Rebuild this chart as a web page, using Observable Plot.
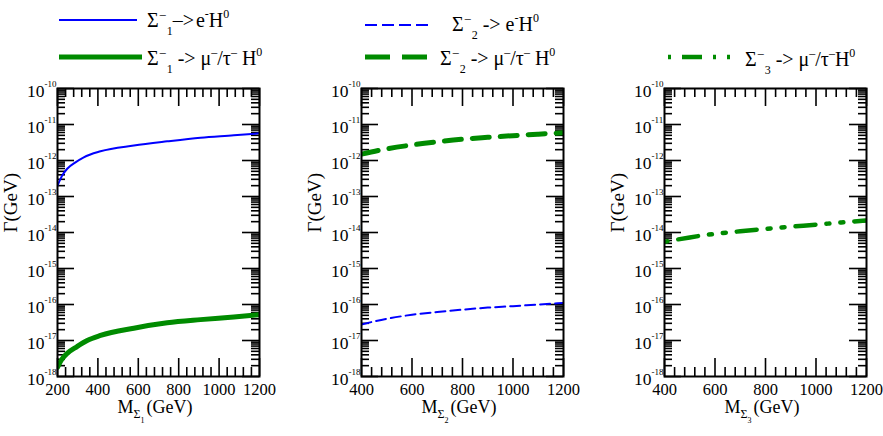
<!DOCTYPE html>
<html><head><meta charset="utf-8">
<script src="https://cdn.jsdelivr.net/npm/d3@7"></script>
<script src="https://cdn.jsdelivr.net/npm/@observablehq/plot@0.6"></script>
<style>
body{margin:0;background:#fff;}
#wrap{position:relative;width:883px;height:436px;overflow:hidden;background:#fff;}
#wrap > svg{position:absolute;overflow:visible;}
#wrap text{font-family:"Liberation Serif","Times New Roman",serif;}
</style></head><body><div id="wrap"></div>
<script>
// ---------- data ----------
const exps = [-18, -17, -16, -15, -14, -13, -12, -11, -10];
const expLabels = ["-18", "-17", "-16", "-15", "-14", "-13", "-12", "-11", "-10"];
const xTicks1 = [200, 400, 600, 800, 1000, 1200];
const xTicks23 = [400, 600, 800, 1000, 1200];

// Panel 1: Sigma1
const m1e = [200, 223, 248, 289, 330, 413, 578, 743, 908, 1073, 1200];
const g1e = [2.0e-13, 3.8e-13, 5.9e-13, 8.9e-13, 1.23e-12, 1.8e-12, 2.6e-12, 3.4e-12, 4.3e-12, 5.0e-12, 5.7e-12];
const m1mu = [200, 223, 248, 297, 347, 413, 578, 743, 908, 1073, 1200];
const g1mu = [1.8e-18, 3.1e-18, 4.4e-18, 6.8e-18, 1.0e-17, 1.38e-17, 2.2e-17, 3.1e-17, 3.8e-17, 4.5e-17, 5.2e-17];
// Panel 2: Sigma2
const m2 = [400, 500, 600, 700, 800, 900, 1000, 1100, 1200];
const g2mu = [1.5e-12, 2.1e-12, 2.7e-12, 3.3e-12, 3.9e-12, 4.4e-12, 4.9e-12, 5.4e-12, 5.9e-12];
const g2e = [2.8e-17, 4.0e-17, 5.2e-17, 6.2e-17, 7.2e-17, 8.2e-17, 9.0e-17, 1.0e-16, 1.1e-16];
// Panel 3: Sigma3
const m3 = [400, 500, 600, 700, 800, 900, 1000, 1100, 1200];
const g3mu = [5.5e-15, 7.3e-15, 9.2e-15, 1.08e-14, 1.26e-14, 1.45e-14, 1.65e-14, 1.9e-14, 2.15e-14];

// ---------- styles ----------
const FONT = '"Liberation Serif", "Times New Roman", serif';
const BLUE = "#0000ff", GREEN = "#008b00";
const DOTDASH = "20,11,3,11,3,11";

const yMajor = exps.map(e => Math.pow(10, e));
const yMinor = [];
for (const e of exps.slice(0, -1)) for (let k = 2; k <= 9; k++) yMinor.push(k * Math.pow(10, e));

const FH = 288, MT = 8, MB = 60, MR = 16;
const wrap = d3.select("#wrap");

function panel({left, ml, fw, xmin, xMajor, sub, series}) {
  const xMinor = d3.range(xmin, 1200.1, 40).filter(v => !xMajor.includes(v));
  const width = ml + fw + MR;
  const height = MT + FH + MB;
  const labelIdx = exps.map((e, i) => i);
  const marks = [
    Plot.tickY(yMajor, {y: d => d, insetRight: fw - 17, stroke: "black", strokeWidth: 1.6}),
    Plot.tickY(yMajor, {y: d => d, insetLeft: fw - 17, stroke: "black", strokeWidth: 1.6}),
    Plot.tickY(yMinor, {y: d => d, insetRight: fw - 8, stroke: "black", strokeWidth: 1.6}),
    Plot.tickY(yMinor, {y: d => d, insetLeft: fw - 8, stroke: "black", strokeWidth: 1.6}),
    Plot.tickX(xMajor, {x: d => d, insetTop: FH - 18, stroke: "black", strokeWidth: 1.6}),
    Plot.tickX(xMajor, {x: d => d, insetBottom: FH - 18, stroke: "black", strokeWidth: 1.6}),
    Plot.tickX(xMinor, {x: d => d, insetTop: FH - 9, stroke: "black", strokeWidth: 1.6}),
    Plot.tickX(xMinor, {x: d => d, insetBottom: FH - 9, stroke: "black", strokeWidth: 1.6}),
    ...series.map(s => Plot.line(s.x.map((v, i) => ({x: v, y: s.y[i]})), {
      x: "x", y: "y", stroke: s.color, strokeWidth: s.width,
      strokeDasharray: s.dash || null, strokeDashoffset: s.offset || 0,
      curve: "monotone-x", clip: true
    })),
    Plot.frame({stroke: "black", strokeWidth: 2}),
    Plot.text(xMajor, {x: d => d, frameAnchor: "bottom", dy: 18, text: d => String(d), fontSize: 16.5, fill: "black"}),
    Plot.text(labelIdx, {y: i => yMajor[i], frameAnchor: "left", textAnchor: "end", dx: -13, dy: 3, text: () => "10", fontSize: 17.5, fill: "black"}),
    Plot.text(labelIdx, {y: i => yMajor[i], frameAnchor: "left", textAnchor: "start", dx: -13, dy: -4, text: i => expLabels[i], fontSize: 9, fill: "black"}),
    Plot.text([0], {frameAnchor: "left", dx: -47, rotate: -90, text: () => "\u0393(GeV)", fontSize: 19, fill: "black"})
  ];
  const svg = Plot.plot({
    width, height, marginLeft: ml, marginRight: MR, marginTop: MT, marginBottom: MB,
    x: {domain: [xmin, 1200], axis: null},
    y: {type: "log", domain: [1e-18, 1e-10], axis: null},
    style: {fontFamily: FONT, background: "transparent", color: "black", overflow: "visible"},
    marks
  });
  d3.select(svg).style("left", left + "px").style("top", "80px");
  // x-axis title: M_{Sigma_n} (GeV)
  const t = d3.select(svg).append("text")
    .attr("x", ml + fw / 2 - 3).attr("y", MT + FH + 37)
    .attr("text-anchor", "middle").attr("font-size", 18).attr("fill", "black");
  t.append("tspan").text("M");
  t.append("tspan").attr("dy", 5).attr("font-size", 12).text("\u03a3");
  t.append("tspan").attr("dy", 5).attr("font-size", 8).text(sub);
  t.append("tspan").attr("dy", -10).attr("dx", 2).text("(GeV)");
  wrap.node().appendChild(svg);
}

panel({left: 0, ml: 57, fw: 202, xmin: 200, xMajor: xTicks1, sub: "1", series: [
  {x: m1e, y: g1e, color: BLUE, width: 2},
  {x: m1mu, y: g1mu, color: GREEN, width: 5}
]});
panel({left: 300, ml: 61, fw: 202, xmin: 400, xMajor: xTicks23, sub: "2", series: [
  {x: m2, y: g2mu, color: GREEN, width: 5, dash: "17,11"},
  {x: m2, y: g2e, color: BLUE, width: 2, dash: "10,5"}
]});
panel({left: 600, ml: 64, fw: 202, xmin: 400, xMajor: xTicks23, sub: "3", series: [
  {x: m3, y: g3mu, color: GREEN, width: 4.5, dash: DOTDASH, offset: 45}
]});

// ---------- legends (above the plots) ----------
const leg = wrap.append("svg").attr("width", 883).attr("height", 80).style("left", "0px").style("top", "0px");
function swatch(x1, x2, y, color, w, dash, offset) {
  leg.append("line").attr("x1", x1).attr("x2", x2).attr("y1", y).attr("y2", y)
    .attr("stroke", color).attr("stroke-width", w)
    .attr("stroke-dasharray", dash || null).attr("stroke-dashoffset", offset || 0);
}
function rich(x, y, size, parts) {
  const t = leg.append("text").attr("x", x).attr("y", y).attr("font-size", size).attr("fill", "black");
  let cur = 0;
  for (const [s, lvl, dx] of parts) {
    const off = lvl === 1 ? -0.45 * size : lvl === -1 ? 0.38 * size : 0;
    const fs = lvl === 0 ? size : size * 0.6;
    t.append("tspan").attr("dy", off - cur).attr("dx", dx || 0).attr("font-size", fs).text(s);
    cur = off;
  }
}
const S = 20;
swatch(59, 137, 20, BLUE, 2);
rich(147, 27, S, [["\u03a3", 0], ["\u2013", 1, 1], ["1", -1, 1], ["\u2013>", 0], ["e", 0, 2], ["-", 1], ["H", 0], ["0", 1]]);
swatch(59, 142, 57, GREEN, 5);
rich(147, 65, S, [["\u03a3", 0], ["\u2013", 1, 1], ["1", -1, 1], [" -> \u03bc", 0], ["\u2013", 1], ["/\u03c4", 0], ["\u2013", 1], [" H", 0], ["0", 1]]);
swatch(365, 432, 25, BLUE, 2, "12,5");
rich(452, 31, S, [["\u03a3", 0], ["\u2013", 1, 1], ["2", -1, 1], [" -> e", 0], ["-", 1], ["H", 0], ["0", 1]]);
swatch(365, 427, 57, GREEN, 5, "25,12");
rich(440, 65, S, [["\u03a3", 0], ["\u2013", 1, 1], ["2", -1, 1], [" -> \u03bc", 0], ["\u2013", 1], ["/\u03c4", 0], ["\u2013", 1], [" H", 0], ["0", 1]]);
swatch(668, 730, 57, GREEN, 4.5, DOTDASH, 45);
rich(745, 66, S, [["\u03a3", 0], ["\u2013", 1, 1], ["3", -1, 1], [" -> \u03bc", 0], ["\u2013", 1], ["/\u03c4", 0], ["\u2013", 1], ["H", 0], ["0", 1]]);
</script></body></html>
